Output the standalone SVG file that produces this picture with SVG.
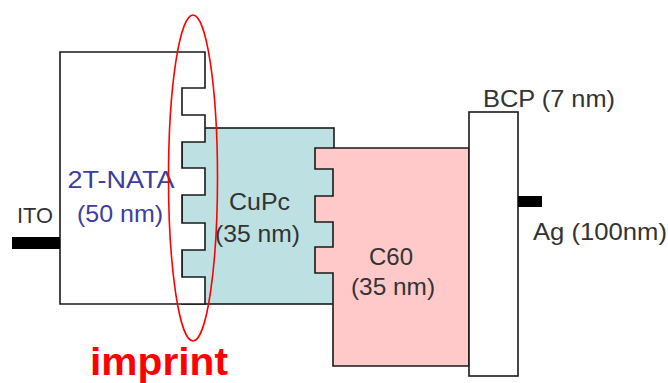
<svg xmlns="http://www.w3.org/2000/svg" width="668" height="383" viewBox="0 0 668 383">
<style>
.layer{stroke:#1a1a1a;stroke-width:1.6;stroke-linejoin:miter}
.t{font-family:"Liberation Sans",Arial,sans-serif;font-size:24px;fill:#333;text-anchor:middle}
.blue{fill:#3d3d9e}
.bar{fill:#000}
</style>
<rect width="668" height="383" fill="#fff"/>
<g id="cupc">
<rect class="layer" x="182" y="128" width="152" height="176" fill="#bde0e2"/>
</g>
<g id="nata">
<path class="layer" fill="#fff" d="M60,52 H205 V88 H182 V115 H205 V142 H182 V168 H205 V195 H182 V223 H205 V250 H182 V277 H205 V304 H60 Z"/>
<text class="t blue" x="121" y="188" textLength="107" lengthAdjust="spacingAndGlyphs">2T-NATA</text>
<text class="t blue" x="120" y="222" textLength="86" lengthAdjust="spacingAndGlyphs">(50 nm)</text>
</g>
<g id="cupc-label">
<text class="t" x="259.5" y="210" textLength="61" lengthAdjust="spacingAndGlyphs">CuPc</text>
<text class="t" x="257.5" y="242" textLength="85" lengthAdjust="spacingAndGlyphs">(35 nm)</text>
</g>
<g id="c60">
<path class="layer" fill="#ffc9c9" d="M315,148 H469 V366 H333 V273 H315 V247 H333 V222 H315 V196 H333 V169 H315 Z"/>
<text class="t" x="391" y="265" textLength="44" lengthAdjust="spacingAndGlyphs">C60</text>
<text class="t" x="393" y="295" textLength="84" lengthAdjust="spacingAndGlyphs">(35 nm)</text>
</g>
<g id="bcp">
<rect class="layer" x="469" y="112" width="49" height="264" fill="#fff"/>
<text class="t" x="549" y="107" textLength="132" lengthAdjust="spacingAndGlyphs">BCP (7 nm)</text>
</g>
<g id="ito">
<rect class="bar" x="12" y="237" width="48" height="12"/>
<text class="t" x="35" y="223" font-size="22" style="font-size:22px" textLength="36" lengthAdjust="spacingAndGlyphs">ITO</text>
</g>
<g id="ag">
<rect class="bar" x="518" y="196" width="24" height="11"/>
<text class="t" x="600" y="240" textLength="134" lengthAdjust="spacingAndGlyphs">Ag (100nm)</text>
</g>
<g id="imprint">
<ellipse cx="193" cy="178" rx="24.5" ry="163" fill="none" stroke="#ff0000" stroke-width="1.6"/>
<text x="159" y="375" font-family="'Liberation Sans',Arial,sans-serif" font-weight="bold" font-size="39" fill="#ff0000" text-anchor="middle" textLength="138" lengthAdjust="spacingAndGlyphs">imprint</text>
</g>
</svg>
